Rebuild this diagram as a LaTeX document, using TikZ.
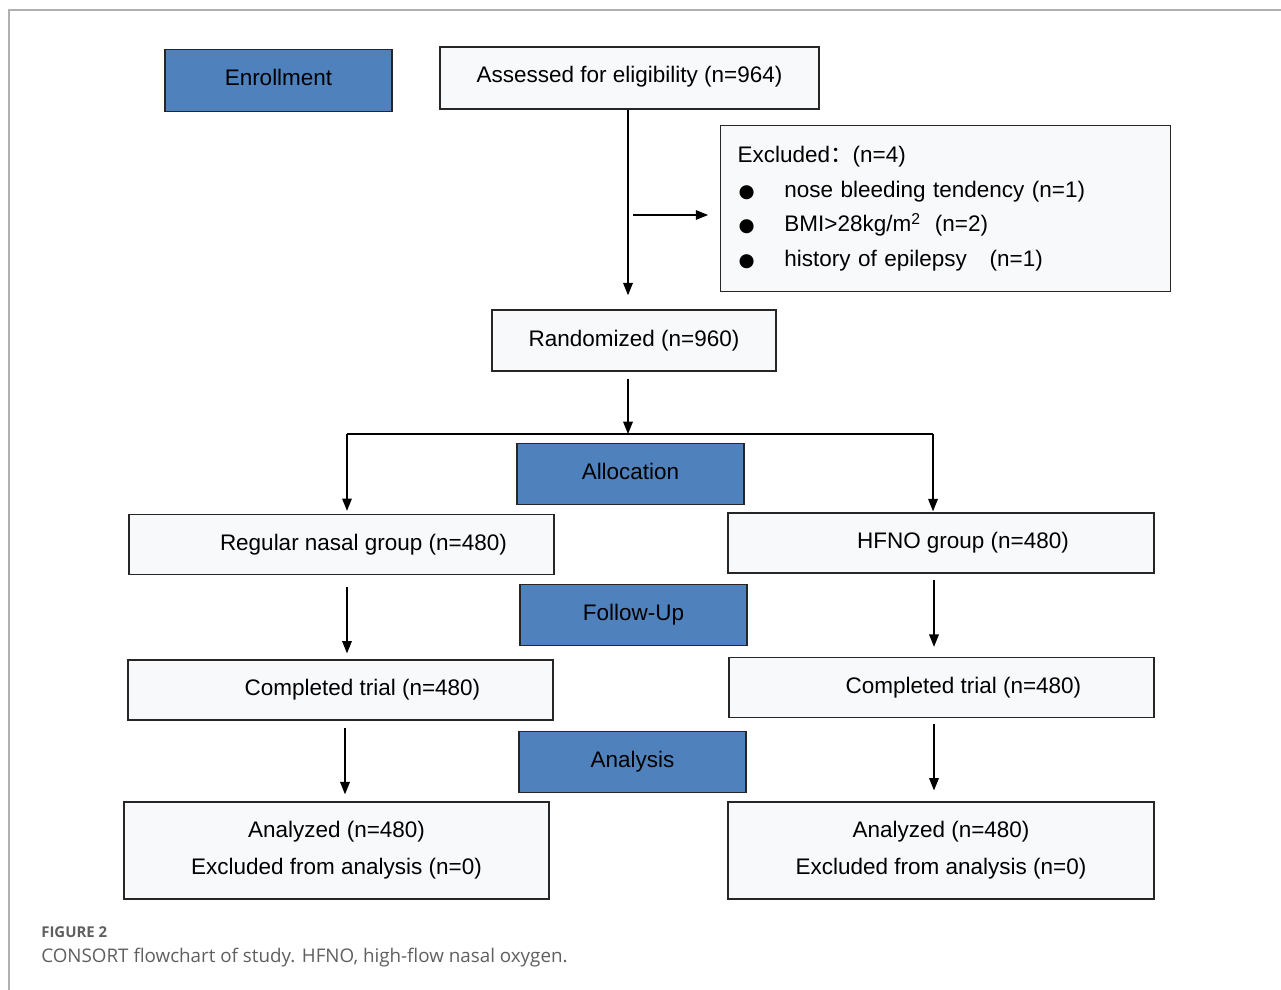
\documentclass[tikz,border=0pt]{standalone}
\usepackage{fontspec}
\setmainfont{Liberation Sans}
\newfontfamily\capfont{Open Sans}
\newfontfamily\cjk{Noto Sans CJK SC}
\newfontfamily\symfont{DejaVu Sans}
\usetikzlibrary{arrows.meta}
\definecolor{stageblue}{RGB}{79,129,189}
\definecolor{boxfill}{RGB}{248,249,251}
\definecolor{framegray}{RGB}{176,176,176}
\definecolor{capgray}{RGB}{95,95,95}
\tikzset{
	stage/.style={draw=black!85,line width=0.8pt,fill=stageblue,minimum width=4.54cm,minimum height=1.23cm,text height=9.5pt,text depth=3.5pt,font=\fontsize{12.8}{15}\selectfont},
	flowbox/.style={draw=black!85,line width=0.8pt,fill=boxfill,minimum width=8.5cm,minimum height=1.2cm,font=\fontsize{12.8}{15}\selectfont},
	arr/.style={-{Triangle[length=7pt,width=5.5pt]},line width=0.6pt}
}
\newcommand{\shiftr}{\hspace*{25pt}}
\newcommand{\blt}{\makebox[26.6pt][l]{\hspace*{0.5pt}\symfont\fontsize{10.5}{10}\selectfont ●}}
\begin{document}
\begin{tikzpicture}[x=0.02cm,y=-0.02cm]
		\useasboundingbox (0,0) rectangle (1281,990);
		\draw[framegray,line width=0.8pt] (9,990)--(9,10)--(1281,10);
		% stages
		\node[stage] (enroll) at (278.5,80.5) {Enrollment};
		\node[stage] (alloc) at (630.5,474) {Allocation};
		\node[stage] (follow) at (633.5,615) {Follow-Up};
		\node[stage] (analysis) at (632.5,762) {Analysis};
		% boxes
		\node[flowbox,minimum width=7.58cm,minimum height=1.24cm,text depth=4.5pt] (assess) at (629.5,78) {Assessed for eligibility (n=964)};
		\node[flowbox,anchor=north west,minimum height=3.32cm,text width=8.32cm,inner xsep=0.34cm,align=left,font=\fontsize{12.8}{19.8}\selectfont] (excl) at (720,125) {%
			Excluded{\cjk ：}(n=4)\\
			\blt nose bleeding tendency (n=1)\\
			\blt BMI>28kg/m\textsuperscript{2}\hspace{8pt}(n=2)\\
			\blt history of epilepsy\hspace{13pt}(n=1)};
		\node[flowbox,minimum width=5.68cm,minimum height=1.22cm] (rand) at (634,340.5) {Randomized (n=960)};
		\node[flowbox] (regular) at (341.5,544.5) {\shiftr Regular nasal group (n=480)};
		\node[flowbox,minimum width=8.52cm] (hfno) at (941,543) {\shiftr HFNO group (n=480)};
		\node[flowbox] (compL) at (340.5,690) {\shiftr Completed trial (n=480)};
		\node[flowbox] (compR) at (941.5,687.5) {\shiftr Completed trial (n=480)};
		\node[flowbox,minimum height=1.94cm,align=center] (anaL) at (336.5,850.5) {Analyzed (n=480)\\[6pt]Excluded from analysis (n=0)};
		\node[flowbox,minimum width=8.52cm,minimum height=1.94cm,align=center] (anaR) at (941,850.5) {Analyzed (n=480)\\[6pt]Excluded from analysis (n=0)};
		% connectors
		\coordinate (branch) at (633,215);
		\coordinate (splitL) at (347,434);
		\coordinate (splitM) at (628,434);
		\coordinate (splitR) at (933,434);
		\draw[arr,shorten >=8pt] (assess.south -| splitM) -- (rand.north -| splitM);
		\draw[arr,shorten >=6.8pt] (branch) -- (branch -| excl.west);
		\draw[arr,shorten <=4pt] (rand.south -| splitM) -- (splitM);
		\draw[line width=0.6pt] (splitL) -- (splitR);
		\draw[arr,shorten >=1.7pt] (splitL) -- (splitL |- regular.north);
		\draw[arr,shorten >=0.6pt] (splitR) -- (splitR |- hfno.north);
		\draw[arr,shorten <=6.8pt,shorten >=3.4pt] (regular.south -| splitL) -- (compL.north -| splitL);
		\draw[arr,shorten <=3.4pt,shorten >=5.7pt] (hfno.south -| 934,0) -- (compR.north -| 934,0);
		\draw[arr,shorten <=4pt,shorten >=4pt] (compL.south -| 345,0) -- (anaL.north -| 345,0);
		\draw[arr,shorten <=3.4pt,shorten >=6.2pt] (compR.south -| 934,0) -- (anaR.north -| 934,0);
		% caption
		\node[anchor=west,inner sep=0,text=capgray,font=\capfont\bfseries\fontsize{8.5}{10}\selectfont] (figlabel) at (41,932) {FIGURE 2};
		\node[anchor=west,inner sep=0,text=capgray,font=\capfont\fontsize{10.7}{12}\selectfont] (figcap) at (41,958) {CONSORT flowchart of study. HFNO, high-flow nasal oxygen.};
	\end{tikzpicture}
\end{document}
